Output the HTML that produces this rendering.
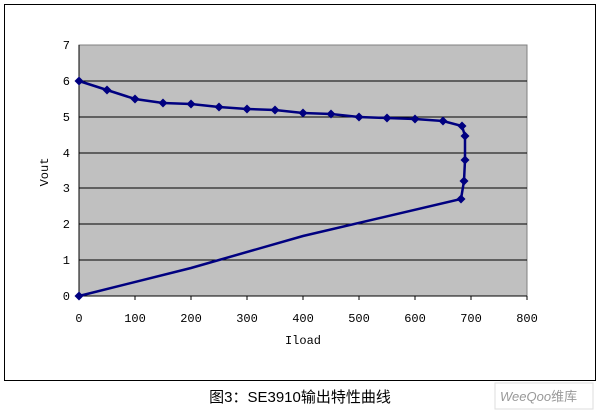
<!DOCTYPE html>
<html><head><meta charset="utf-8"><style>
body{margin:0;background:#fff;width:601px;height:414px;overflow:hidden}
text{font-family:"Liberation Mono",monospace;font-size:12px;fill:#000}
</style></head><body>
<svg width="601" height="414" viewBox="0 0 601 414">
<rect x="4.5" y="4.5" width="591" height="376" fill="#fff" stroke="#000" stroke-width="1"/>
<rect x="79" y="45" width="448" height="251" fill="#c0c0c0" stroke="#808080"/>
<g stroke="#000" stroke-width="1">
<line x1="79" y1="81" x2="527" y2="81"/><line x1="79" y1="117" x2="527" y2="117"/>
<line x1="79" y1="153" x2="527" y2="153"/><line x1="79" y1="188" x2="527" y2="188"/>
<line x1="79" y1="224" x2="527" y2="224"/><line x1="79" y1="260" x2="527" y2="260"/>
<line x1="79" y1="296" x2="527" y2="296"/><line x1="79" y1="45" x2="79" y2="296"/>
<line x1="135" y1="296" x2="135" y2="300"/><line x1="191" y1="296" x2="191" y2="300"/><line x1="247" y1="296" x2="247" y2="300"/><line x1="303" y1="296" x2="303" y2="300"/><line x1="359" y1="296" x2="359" y2="300"/><line x1="415" y1="296" x2="415" y2="300"/><line x1="471" y1="296" x2="471" y2="300"/><line x1="527" y1="296" x2="527" y2="300"/><line x1="79" y1="296" x2="79" y2="300"/>
</g>
<g text-anchor="end">
<text x="70" y="300">0</text><text x="70" y="264">1</text><text x="70" y="228">2</text><text x="70" y="192">3</text><text x="70" y="157">4</text><text x="70" y="121">5</text><text x="70" y="85">6</text><text x="70" y="49">7</text>
</g>
<g text-anchor="middle">
<text x="79" y="322">0</text><text x="135" y="322">100</text><text x="191" y="322">200</text><text x="247" y="322">300</text><text x="303" y="322">400</text><text x="359" y="322">500</text><text x="415" y="322">600</text><text x="471" y="322">700</text><text x="527" y="322">800</text>
<text x="303" y="344">Iload</text>
</g>
<text transform="translate(48,172) rotate(-90)" text-anchor="middle">Vout</text>
<polyline fill="none" stroke="#000080" stroke-width="2.5" points="79,81 107,90 135,99 163,103 191,104 219,107 247,109 275,110 303,113 331,114 359,117 387,118 415,119 443,121 462,126 465,136 465,160 464,181 461,199 303,236 191,268 79,296"/>
<g fill="#000080">
<path id="d" d="M0,-4.5L4.5,0L0,4.5L-4.5,0Z" transform="translate(79,81)"/>
<use href="#d" transform="translate(28,9)"/><use href="#d" transform="translate(56,18)"/><use href="#d" transform="translate(84,22)"/><use href="#d" transform="translate(112,23)"/><use href="#d" transform="translate(140,26)"/><use href="#d" transform="translate(168,28)"/><use href="#d" transform="translate(196,29)"/><use href="#d" transform="translate(224,32)"/><use href="#d" transform="translate(252,33)"/><use href="#d" transform="translate(280,36)"/><use href="#d" transform="translate(308,37)"/><use href="#d" transform="translate(336,38)"/><use href="#d" transform="translate(364,40)"/><use href="#d" transform="translate(383,45)"/><use href="#d" transform="translate(386,55)"/><use href="#d" transform="translate(386,79)"/><use href="#d" transform="translate(385,100)"/><use href="#d" transform="translate(382,118)"/><use href="#d" transform="translate(0,215)"/>
</g>
<text x="300" y="402" text-anchor="middle" style="font-family:'Liberation Sans','Noto Sans CJK SC',sans-serif;font-size:15px">图3：SE3910输出特性曲线</text>
<rect x="495" y="383" width="98" height="26" fill="#fff" stroke="#ddd"/>
<text x="500" y="401" style="font-family:'Liberation Sans','Noto Sans CJK SC',sans-serif;font-size:13px;font-style:italic;fill:#999">WeeQoo<tspan style="font-style:normal">维库</tspan></text>
</svg>
</body></html>
